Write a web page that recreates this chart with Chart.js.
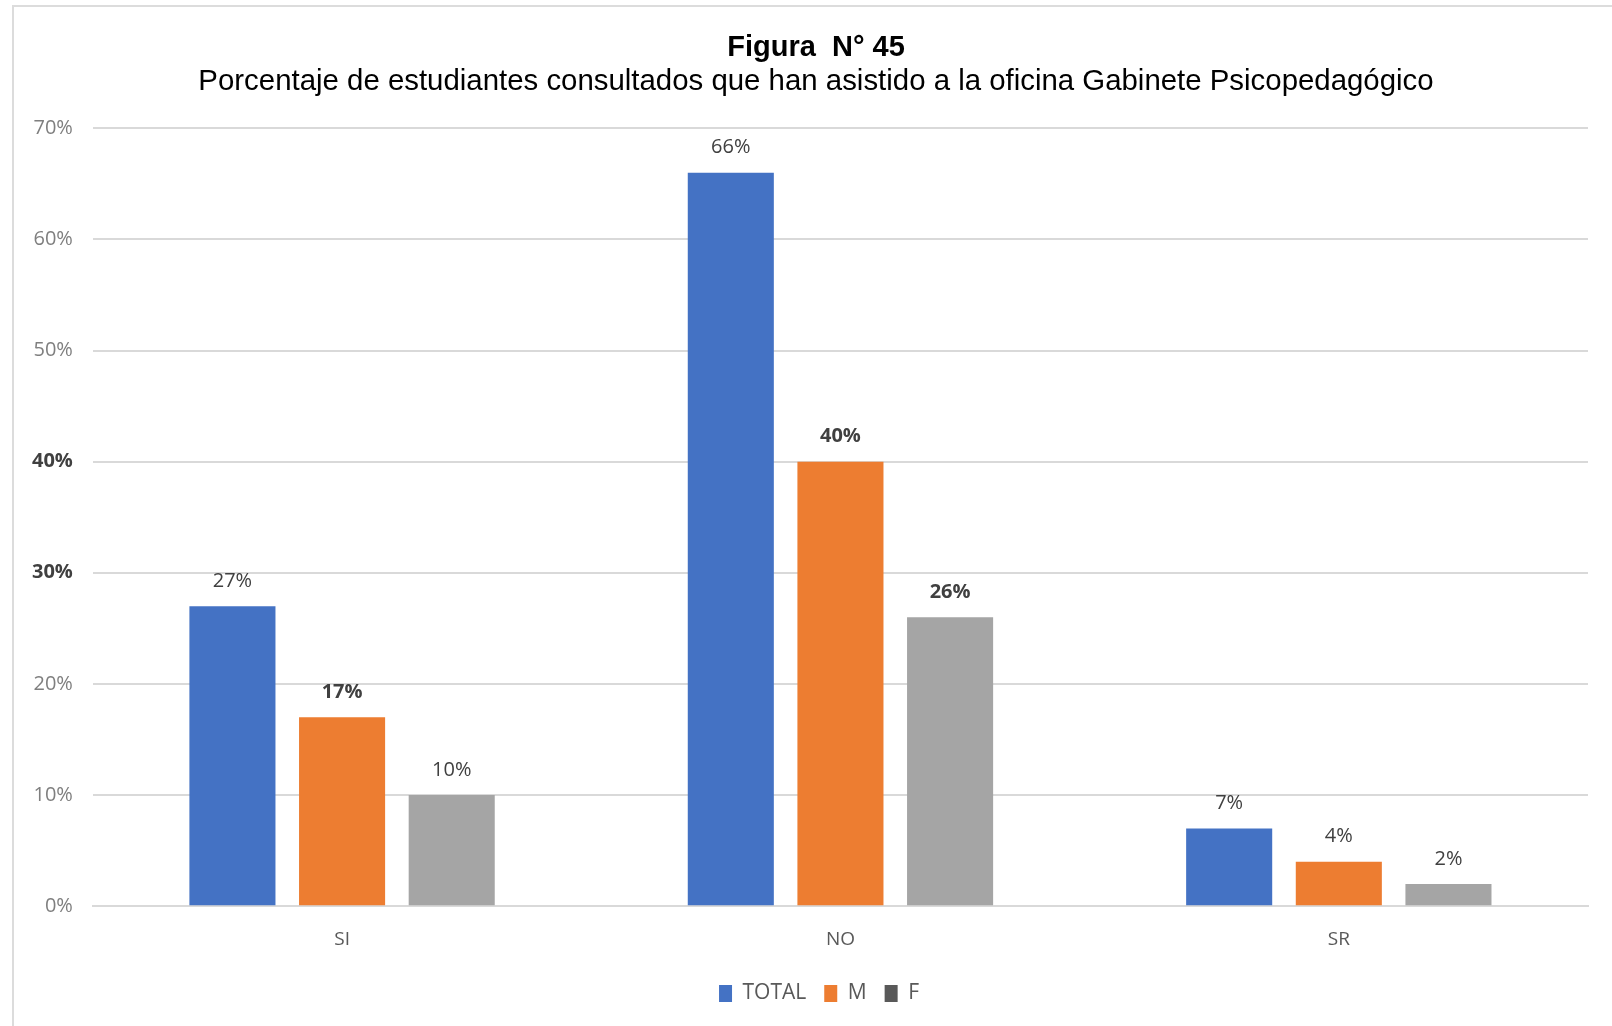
<!DOCTYPE html>
<html>
<head>
<meta charset="utf-8">
<script src="https://cdn.jsdelivr.net/npm/chart.js@4.4.1/dist/chart.umd.min.js"></script>
<style>
    html, body { margin: 0; padding: 0; background: #fff; }
    #frame {
        position: absolute; left: 12px; top: 5px; width: 1620px; height: 1040px;
        border-left: 2px solid #dcdcdc; border-top: 2px solid #dcdcdc;
    }
    #wrap { position: absolute; left: 0; top: 0; width: 1612px; height: 1026px; }
</style>
</head>
<body>
<div id="frame"></div>
<div id="wrap"><canvas id="chart" width="1612" height="1026"></canvas></div>
<script>
const categories = ["SI", "NO", "SR"];
const seriesNames = ["TOTAL", "M", "F"];
const totalValues = [27, 66, 7];
const mValues = [17, 40, 4];
const fValues = [10, 26, 2];
const tickMax = 70;
const tickStep = 10;

const barColors = ["#4472C4", "#ED7D31", "#A5A5A5"];
const legendColors = ["#4472C4", "#ED7D31", "#595959"];
// labels that came out heavier in the scan (dataset index, category index)
const boldLabels = ["1-0", "1-1", "2-1"];
const boldTicks = [30, 40];

function isBoldTick(ctx) {
    return !!(ctx && ctx.tick && boldTicks.includes(ctx.tick.value));
}

const labelPlugin = {
    id: "barLabels",
    afterDatasetsDraw(chart) {
        const ctx = chart.ctx;
        ctx.save();
        ctx.textAlign = "center";
        ctx.textBaseline = "middle";
        ctx.fillStyle = "#404040";
        chart.data.datasets.forEach((ds, di) => {
            const meta = chart.getDatasetMeta(di);
            meta.data.forEach((bar, i) => {
                const bold = boldLabels.includes(di + "-" + i);
                ctx.font = (bold ? "bold " : "") + "20px 'Open Sans'";
                ctx.fillText(ds.data[i] + "%", bar.x, bar.y - 25);
            });
        });
        ctx.restore();
    }
};

// title and legend sit a little right of the plot centre in the original
const nudgePlugin = {
    id: "nudge",
    afterLayout(chart) {
        chart.boxes.forEach(b => {
            if (b === chart.legend) {
                b.left += 19;
                b.right += 19;
            } else if (b.position === "top") {
                b.left += 16;
                b.right += 16;
            }
        });
    }
};

const allValues = [totalValues, mValues, fValues];

new Chart(document.getElementById("chart"), {
    type: "bar",
    data: {
        labels: categories,
        datasets: seriesNames.map((name, i) => ({
            label: name,
            data: allValues[i],
            backgroundColor: barColors[i],
            barPercentage: 0.785,
            categoryPercentage: 0.66
        }))
    },
    options: {
        responsive: false,
        animation: false,
        layout: { padding: { left: 12, right: 24, top: 0, bottom: 12 } },
        plugins: {
            title: {
                display: true,
                text: "Figura  N° 45",
                color: "#000",
                font: { family: "'Liberation Sans', Arial", size: 29, weight: "bold", lineHeight: 1.1 },
                padding: { top: 32, bottom: 2 }
            },
            subtitle: {
                display: true,
                text: "Porcentaje de estudiantes consultados que han asistido a la oficina Gabinete Psicopedagógico",
                color: "#000",
                font: { family: "'Liberation Sans', Arial", size: 29.4, lineHeight: 1.1 },
                padding: { top: 0, bottom: 30 }
            },
            legend: {
                position: "bottom",
                labels: {
                    color: "#595959",
                    font: { family: "'Open Sans'", size: 21 },
                    boxWidth: 13,
                    boxHeight: 17,
                    padding: 18,
                    generateLabels(chart) {
                        return chart.data.datasets.map((ds, i) => ({
                            text: ds.label,
                            fillStyle: legendColors[i],
                            strokeStyle: legendColors[i],
                            lineWidth: 0,
                            fontColor: "#595959",
                            datasetIndex: i
                        }));
                    }
                }
            },
            tooltip: { enabled: false }
        },
        scales: {
            x: {
                grid: { display: false },
                border: { color: "#d9d9d9", width: 2 },
                ticks: {
                    color: "#595959",
                    font: { family: "'Open Sans'", size: 19 },
                    padding: 14
                }
            },
            y: {
                min: 0,
                max: tickMax,
                border: { display: false },
                grid: { color: "#d9d9d9", lineWidth: 2, drawTicks: false },
                ticks: {
                    stepSize: tickStep,
                    padding: 20,
                    color: ctx => isBoldTick(ctx) ? "#404040" : "#7f7f7f",
                    font: ctx => ({
                        family: "'Open Sans'",
                        size: 20,
                        weight: isBoldTick(ctx) ? "bold" : "normal"
                    }),
                    callback: v => v + "%"
                }
            }
        }
    },
    plugins: [labelPlugin, nudgePlugin]
});
</script>
</body>
</html>
